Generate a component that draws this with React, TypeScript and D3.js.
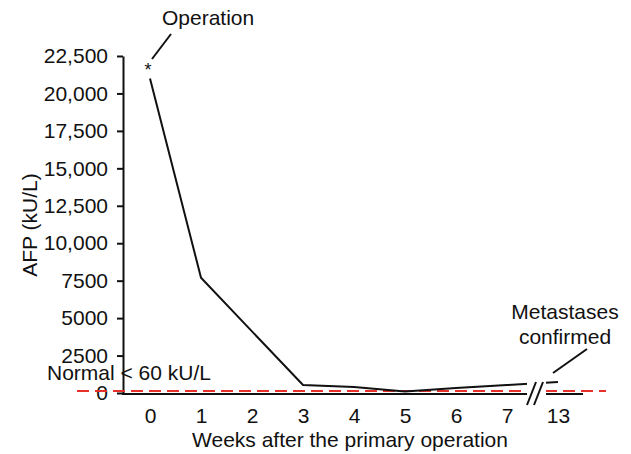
import React, { useEffect, useRef } from 'react'
import * as d3 from 'd3'

// weeks after the primary operation (13 sits after the axis break)
const weeks = ['0', '1', '2', '3', '4', '5', '6', '7', '13']
// AFP in kU/L, null = no measurement that week
const afp = [21000, 7700, null, 530, 400, 100, 330, 530, 730]
const yTicks = [0, 2500, 5000, 7500, 10000, 12500, 15000, 17500, 20000, 22500]
const yTickLabels = ['0', '2500', '5000', '7500', '10,000', '12,500', '15,000', '17,500', '20,000', '22,500']
const normalLimit = 60

const FONT = '"Liberation Sans", Arial, Helvetica, sans-serif'

const App = () => {
    const ref = useRef(null)

    useEffect(() => {
        const svg = d3.select(ref.current)
        svg.selectAll('*').remove()

        const x = d3.scalePoint().domain(weeks).range([150, 558])
        const y = d3.scaleLinear().domain([0, 22500]).range([393, 56])

        const g = svg.append('g').style('font-family', FONT)

        // y axis
        const yAxis = g.append('g')
            .attr('transform', 'translate(123,0)')
            .call(d3.axisLeft(y).tickValues(yTicks)
                .tickFormat((d, i) => yTickLabels[i])
                .tickSize(6).tickSizeOuter(0).tickPadding(9))
        yAxis.selectAll('path, line').attr('stroke', '#111').attr('stroke-width', 2)
        yAxis.selectAll('text').style('font-size', '21px').style('font-family', FONT).attr('fill', '#111')

        // x axis (labels only, baseline drawn below)
        const xAxis = g.append('g')
            .attr('transform', 'translate(0,394)')
            .call(d3.axisBottom(x).tickSize(0).tickPadding(14))
        xAxis.select('.domain').remove()
        xAxis.selectAll('text').style('font-size', '21px').style('font-family', FONT).attr('fill', '#111')

        g.append('line')
            .attr('x1', 122).attr('x2', 583)
            .attr('y1', 394).attr('y2', 394)
            .attr('stroke', '#111').attr('stroke-width', 2)

        // normal limit
        g.append('line')
            .attr('x1', 77).attr('x2', 606)
            .attr('y1', y(normalLimit) - 1).attr('y2', y(normalLimit) - 1)
            .attr('stroke', '#e8302a').attr('stroke-width', 2)
            .attr('stroke-dasharray', '12,6')
        g.append('text')
            .attr('x', 47).attr('y', 380)
            .style('font-size', '21px').attr('fill', '#111')
            .text('Normal < 60 kU/L')

        // AFP line
        const pts = weeks.map((w, i) => ({ w, v: afp[i] })).filter(d => d.v !== null)
        const line = d3.line().x(d => x(d.w)).y(d => y(d.v))
        g.append('path')
            .datum(pts)
            .attr('d', line)
            .attr('fill', 'none')
            .attr('stroke', '#111')
            .attr('stroke-width', 2)

        // axis break
        g.append('rect')
            .attr('x', 527).attr('y', 374)
            .attr('width', 19).attr('height', 28)
            .attr('fill', '#fff')
        g.append('line').attr('x1', 527).attr('y1', 405).attr('x2', 536).attr('y2', 382)
            .attr('stroke', '#111').attr('stroke-width', 2)
        g.append('line').attr('x1', 534).attr('y1', 405).attr('x2', 543).attr('y2', 382)
            .attr('stroke', '#111').attr('stroke-width', 2)

        // annotations
        g.append('text')
            .attr('x', x('0') - 2).attr('y', y(afp[0]) - 2)
            .attr('text-anchor', 'middle')
            .style('font-size', '18px').attr('fill', '#111')
            .text('*')
        g.append('line').attr('x1', 152).attr('y1', 59).attr('x2', 171).attr('y2', 34)
            .attr('stroke', '#111').attr('stroke-width', 2)
        g.append('text')
            .attr('x', 162).attr('y', 25)
            .style('font-size', '21px').attr('fill', '#111')
            .text('Operation')

        g.append('line').attr('x1', 553).attr('y1', 373).attr('x2', 587).attr('y2', 349)
            .attr('stroke', '#111').attr('stroke-width', 2)
        g.append('text')
            .attr('x', 565).attr('y', 319)
            .attr('text-anchor', 'middle')
            .style('font-size', '21px').attr('fill', '#111')
            .text('Metastases')
        g.append('text')
            .attr('x', 565).attr('y', 344)
            .attr('text-anchor', 'middle')
            .style('font-size', '21px').attr('fill', '#111')
            .text('confirmed')

        // axis titles
        g.append('text')
            .attr('x', 350).attr('y', 447)
            .attr('text-anchor', 'middle')
            .style('font-size', '21px').attr('fill', '#111')
            .text('Weeks after the primary operation')
        g.append('text')
            .attr('transform', 'translate(37,225) rotate(-90)')
            .attr('text-anchor', 'middle')
            .style('font-size', '21px').attr('fill', '#111')
            .text('AFP (kU/L)')
    }, [])

    return (
        <svg
            ref={ref}
            width={631}
            height={454}
            style={{ position: 'absolute', left: 0, top: 0, background: '#fff' }}
        />
    )
}

export default App
